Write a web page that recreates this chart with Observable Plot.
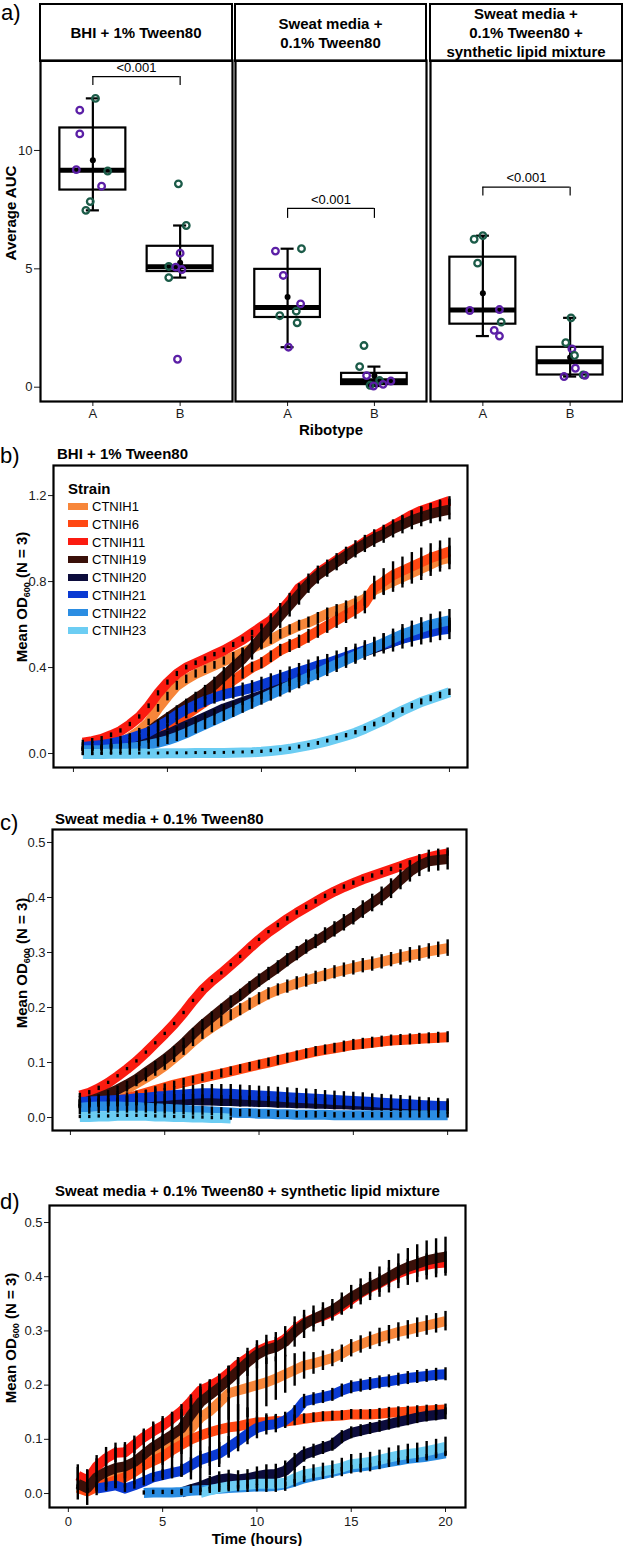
<!DOCTYPE html>
<html>
<head>
<meta charset="utf-8">
<script src="https://cdn.jsdelivr.net/npm/d3@7"></script>
<script src="https://cdn.jsdelivr.net/npm/@observablehq/plot@0.6"></script>
<style>
  html, body { margin: 0; padding: 0; background: #fff; }
  body { font-family: "Liberation Sans", Arial, Helvetica, sans-serif; color: #000; }
  #root { position: relative; width: 623px; height: 1546px; overflow: hidden; background: #fff; }
  .lbl { position: absolute; white-space: nowrap; line-height: 1; color: #000; }
  .hdr { position: absolute; box-sizing: border-box; border: 2px solid #000; display: flex; align-items: center; justify-content: center; text-align: center; font-weight: bold; font-size: 15px; line-height: 19px; }
  .sw { position: absolute; width: 20px; height: 7px; }
  sub { font-size: 9px; vertical-align: -3px; line-height: 0; }
</style>
</head>
<body>
<div id="root"></div>
<script>
// ================= DATA : panel a (Average AUC by ribotype) =================
const media = ["BHI + 1% Tween80", "Sweat media +<br>0.1% Tween80", "Sweat media +<br>0.1% Tween80 +<br>synthetic lipid mixture"];
const ribotypes = ["A", "B"];
const pLabels = ["<0.001", "<0.001", "<0.001"];
const bracketY = [13.12, 7.55, 8.45];
const bracketLegY = [12.74, 7.13, 8.08];
const repNames = ["p", "g"];
const repColors = ["#5b1fa6", "#1b5b48"];

const bhiA_auc = [12.2, 11.7, 10.7, 9.19, 9.13, 8.49, 7.84, 7.47];
const bhiA_rep = ["g","p","p","p","g","p","g","g"];
const bhiA_jit = [0.03,-0.15,-0.15,-0.19,0.17,0.10,-0.03,-0.08];
const bhiB_auc = [8.59, 6.83, 5.66, 5.10, 5.07, 4.97, 4.63, 1.18];
const bhiB_rep = ["g","g","p","g","p","p","g","p"];
const bhiB_jit = [-0.02,0.07,0.0,-0.13,-0.05,0.02,-0.13,-0.03];

const swA_auc = [5.85, 5.75, 4.72, 3.52, 3.21, 3.02, 2.72, 1.69];
const swA_rep = ["g","p","p","p","g","g","g","p"];
const swA_jit = [0.16,-0.14,-0.05,0.15,0.10,-0.09,0.11,0.01];
const swB_auc = [1.76, 0.87, 0.49, 0.28, 0.26, 0.12, 0.08, 0.05];
const swB_rep = ["g","g","p","g","p","p","g","p"];
const swB_jit = [-0.12,-0.17,-0.09,0.06,0.19,0.10,-0.05,-0.01];

const lipA_auc = [6.40, 6.25, 5.24, 3.28, 3.24, 2.75, 2.40, 2.16];
const lipA_rep = ["g","g","g","p","p","g","p","p"];
const lipA_jit = [0.0,-0.10,-0.06,0.19,-0.15,0.21,0.13,0.19];
const lipB_auc = [2.93, 1.88, 1.62, 1.34, 0.80, 0.52, 0.50, 0.45];
const lipB_rep = ["g","g","p","g","p","g","p","p"];
const lipB_jit = [0.01,-0.05,0.02,0.05,0.06,0.15,0.17,-0.07];

// ================= DATA : growth curves (mean OD600, SD) =================
const T = [0.5,1,1.5,2,2.5,3,3.5,4,4.5,5,5.5,6,6.5,7,7.5,8,8.5,9,9.5,10,10.5,11,11.5,12,12.5,13,13.5,14,14.5,15,15.5,16,16.5,17,17.5,18,18.5,19,19.5,20];
const strains = ["CTNIH1","CTNIH6","CTNIH11","CTNIH19","CTNIH20","CTNIH21","CTNIH22","CTNIH23"];
const strainColors = ["#f7863a","#ff4712","#fb1b10","#3a1009","#0c0c3c","#0a3ad2","#2b8de2","#6ccdf3"];

// b) BHI + 1% Tween80
const b_CTNIH1 = [0.02,0.022,0.028,0.038,0.052,0.075,0.105,0.145,0.21,0.265,0.315,0.345,0.37,0.39,0.41,0.43,0.45,0.47,0.49,0.51,0.53,0.555,0.575,0.595,0.61,0.63,0.65,0.665,0.68,0.70,0.72,0.76,0.78,0.80,0.82,0.84,0.86,0.88,0.90,0.91];
const b_CTNIH6 = [0.02,0.02,0.025,0.03,0.04,0.05,0.065,0.08,0.10,0.12,0.15,0.18,0.21,0.24,0.27,0.31,0.34,0.37,0.40,0.42,0.45,0.48,0.50,0.52,0.545,0.57,0.595,0.62,0.645,0.67,0.70,0.77,0.80,0.83,0.85,0.87,0.89,0.91,0.925,0.94];
const b_CTNIH11 = [0.05,0.058,0.068,0.085,0.105,0.135,0.17,0.22,0.28,0.33,0.37,0.40,0.42,0.44,0.46,0.48,0.505,0.53,0.56,0.59,0.62,0.66,0.71,0.77,0.80,0.84,0.87,0.90,0.93,0.955,0.985,1.01,1.035,1.06,1.085,1.11,1.13,1.145,1.16,1.175];
const b_CTNIH19 = [0.02,0.02,0.025,0.03,0.04,0.055,0.07,0.10,0.135,0.165,0.195,0.225,0.255,0.285,0.32,0.36,0.40,0.44,0.49,0.54,0.59,0.64,0.69,0.74,0.79,0.83,0.86,0.89,0.92,0.95,0.975,1.0,1.02,1.045,1.065,1.085,1.10,1.115,1.125,1.135];
const b_CTNIH20 = [0.02,0.02,0.022,0.025,0.03,0.035,0.045,0.06,0.075,0.09,0.11,0.13,0.15,0.17,0.19,0.21,0.225,0.24,0.255,0.27,0.29,0.31,0.33,0.35,0.37,0.39,0.41,0.425,0.44,0.46,0.475,0.49,0.505,0.52,0.535,0.55,0.56,0.57,0.58,0.59];
const b_CTNIH21 = [0.03,0.035,0.04,0.047,0.057,0.07,0.085,0.10,0.125,0.15,0.18,0.205,0.225,0.245,0.26,0.275,0.285,0.295,0.305,0.32,0.335,0.35,0.365,0.38,0.395,0.41,0.42,0.435,0.45,0.465,0.48,0.495,0.51,0.52,0.535,0.545,0.555,0.565,0.575,0.58];
const b_CTNIH22 = [0.015,0.015,0.017,0.02,0.023,0.027,0.032,0.04,0.05,0.062,0.077,0.095,0.115,0.135,0.155,0.175,0.195,0.215,0.235,0.255,0.275,0.295,0.315,0.335,0.355,0.375,0.395,0.415,0.435,0.455,0.475,0.495,0.515,0.535,0.555,0.57,0.585,0.60,0.61,0.62];
const b_CTNIH23 = [-0.002,-0.002,-0.002,-0.001,-0.001,-0.001,0.0,0.0,0.0,0.001,0.001,0.001,0.002,0.002,0.002,0.003,0.004,0.005,0.006,0.008,0.012,0.016,0.022,0.03,0.038,0.047,0.058,0.07,0.083,0.097,0.115,0.135,0.155,0.178,0.20,0.22,0.24,0.255,0.27,0.285];
const b_sd_CTNIH1 = [0.004,0.004,0.005,0.006,0.008,0.01,0.012,0.015,0.018,0.02,0.021,0.02,0.019,0.018,0.018,0.019,0.02,0.02,0.021,0.022,0.022,0.023,0.024,0.025,0.025,0.026,0.027,0.028,0.03,0.032,0.035,0.04,0.045,0.05,0.05,0.052,0.055,0.056,0.056,0.055];
const b_sd_CTNIH6 = [0.004,0.004,0.005,0.005,0.006,0.007,0.008,0.01,0.012,0.014,0.016,0.018,0.02,0.021,0.022,0.022,0.023,0.024,0.025,0.026,0.027,0.028,0.03,0.031,0.032,0.034,0.036,0.038,0.04,0.045,0.05,0.055,0.06,0.062,0.064,0.065,0.066,0.066,0.064,0.062];
const b_sd_CTNIH11 = [0.012,0.012,0.011,0.011,0.01,0.01,0.01,0.011,0.012,0.012,0.012,0.011,0.011,0.01,0.01,0.011,0.012,0.012,0.013,0.013,0.013,0.014,0.014,0.014,0.015,0.015,0.015,0.015,0.016,0.016,0.016,0.017,0.017,0.017,0.018,0.018,0.018,0.018,0.019,0.02];
const b_sd_CTNIH19 = [0.012,0.012,0.012,0.013,0.014,0.015,0.017,0.02,0.022,0.025,0.027,0.028,0.03,0.032,0.035,0.04,0.045,0.05,0.055,0.058,0.06,0.058,0.055,0.05,0.045,0.042,0.04,0.04,0.04,0.04,0.04,0.041,0.042,0.042,0.043,0.044,0.045,0.046,0.047,0.048];
const b_sd_CTNIH20 = [0.01,0.01,0.01,0.01,0.011,0.011,0.012,0.012,0.013,0.013,0.014,0.014,0.015,0.015,0.015,0.016,0.016,0.017,0.017,0.018,0.018,0.019,0.019,0.02,0.02,0.021,0.021,0.022,0.022,0.023,0.023,0.024,0.024,0.025,0.025,0.026,0.026,0.027,0.027,0.028];
const b_sd_CTNIH21 = [0.02,0.02,0.021,0.021,0.022,0.022,0.023,0.024,0.025,0.026,0.027,0.028,0.029,0.03,0.03,0.031,0.032,0.033,0.034,0.035,0.036,0.037,0.038,0.039,0.04,0.04,0.041,0.042,0.043,0.044,0.045,0.046,0.047,0.048,0.049,0.05,0.05,0.05,0.05,0.05];
const b_sd_CTNIH22 = [0.025,0.025,0.024,0.024,0.023,0.022,0.022,0.021,0.02,0.02,0.021,0.022,0.023,0.024,0.025,0.026,0.027,0.028,0.029,0.03,0.031,0.032,0.033,0.034,0.035,0.036,0.037,0.038,0.039,0.04,0.041,0.042,0.043,0.044,0.045,0.046,0.047,0.048,0.049,0.05];
const b_sd_CTNIH23 = [0.007,0.007,0.007,0.007,0.007,0.007,0.007,0.007,0.007,0.007,0.007,0.007,0.007,0.007,0.007,0.007,0.007,0.007,0.008,0.008,0.008,0.008,0.008,0.009,0.009,0.009,0.009,0.01,0.01,0.01,0.011,0.011,0.012,0.012,0.013,0.013,0.014,0.014,0.015,0.015];

// c) Sweat media + 0.1% Tween80
const c_CTNIH1 = [0.02,0.023,0.028,0.034,0.042,0.052,0.062,0.072,0.082,0.094,0.108,0.122,0.138,0.152,0.164,0.175,0.186,0.196,0.206,0.216,0.225,0.232,0.238,0.244,0.249,0.254,0.259,0.264,0.268,0.272,0.276,0.279,0.283,0.287,0.291,0.295,0.298,0.302,0.305,0.308];
const c_CTNIH6 = [0.02,0.022,0.024,0.027,0.031,0.035,0.04,0.045,0.05,0.055,0.06,0.064,0.068,0.072,0.076,0.08,0.084,0.088,0.092,0.096,0.1,0.104,0.108,0.112,0.116,0.12,0.123,0.126,0.129,0.132,0.134,0.136,0.138,0.14,0.141,0.142,0.143,0.144,0.145,0.146];
const c_CTNIH11 = [0.04,0.045,0.053,0.063,0.075,0.088,0.102,0.118,0.135,0.152,0.17,0.19,0.212,0.232,0.248,0.262,0.277,0.292,0.308,0.323,0.337,0.349,0.361,0.372,0.382,0.392,0.402,0.411,0.419,0.426,0.433,0.439,0.445,0.451,0.457,0.463,0.468,0.473,0.477,0.48];
const c_CTNIH19 = [0.025,0.03,0.036,0.043,0.051,0.06,0.07,0.082,0.094,0.106,0.12,0.135,0.152,0.168,0.182,0.196,0.21,0.222,0.236,0.249,0.261,0.273,0.286,0.298,0.31,0.32,0.331,0.342,0.354,0.365,0.378,0.39,0.402,0.416,0.432,0.447,0.458,0.466,0.468,0.47];
const c_CTNIH20 = [0.024,0.025,0.026,0.027,0.028,0.029,0.03,0.031,0.031,0.032,0.032,0.032,0.032,0.031,0.031,0.03,0.03,0.029,0.029,0.028,0.028,0.027,0.027,0.026,0.026,0.025,0.025,0.024,0.024,0.023,0.023,0.022,0.022,0.022,0.021,0.021,0.021,0.02,0.02,0.02];
const c_CTNIH21 = [0.028,0.029,0.03,0.031,0.032,0.033,0.035,0.036,0.038,0.039,0.041,0.042,0.043,0.044,0.044,0.043,0.043,0.042,0.041,0.04,0.039,0.038,0.037,0.036,0.035,0.034,0.033,0.032,0.031,0.03,0.029,0.028,0.027,0.026,0.025,0.024,0.023,0.022,0.021,0.02];
const c_CTNIH22 = [0.018,0.019,0.02,0.02,0.02,0.019,0.019,0.018,0.017,0.016,0.015,0.014,0.013,0.012,0.011,0.01,0.009,0.008,0.008,0.007,0.007,0.006,0.006,0.005,0.005,0.005,0.005,0.004,0.004,0.004,0.004,0.004,0.004,0.004,0.004,0.004,0.004,0.004,0.004,0.004];
const c_CTNIH23 = [0.001,0.001,0.002,0.002,0.003,0.003,0.003,0.003,0.002,0.002,0.001,0.001,0.0,0.0,-0.001,-0.001,-0.002,null,null,null,null,null,null,null,null,null,null,null,null,null,null,null,null,null,null,null,null,null,null,null];
const c_sd_CTNIH1 = [0.004,0.004,0.004,0.005,0.005,0.006,0.006,0.007,0.007,0.008,0.008,0.009,0.009,0.01,0.01,0.01,0.01,0.011,0.011,0.011,0.011,0.011,0.012,0.012,0.012,0.012,0.012,0.012,0.013,0.013,0.013,0.013,0.013,0.013,0.014,0.014,0.014,0.014,0.014,0.015];
const c_sd_CTNIH6 = [0.003,0.003,0.004,0.004,0.004,0.005,0.005,0.005,0.006,0.006,0.006,0.007,0.007,0.007,0.007,0.008,0.008,0.008,0.008,0.008,0.008,0.009,0.009,0.009,0.009,0.009,0.009,0.009,0.01,0.01,0.01,0.01,0.01,0.01,0.01,0.01,0.01,0.01,0.01,0.01];
const c_sd_CTNIH11 = [0.004,0.004,0.004,0.003,0.003,0.003,0.003,0.003,0.003,0.003,0.003,0.003,0.003,0.003,0.003,0.003,0.003,0.003,0.003,0.003,0.003,0.004,0.004,0.004,0.004,0.004,0.004,0.004,0.004,0.004,0.004,0.004,0.004,0.004,0.004,0.004,0.005,0.005,0.005,0.005];
const c_sd_CTNIH19 = [0.005,0.005,0.005,0.006,0.006,0.006,0.007,0.007,0.008,0.008,0.009,0.009,0.01,0.01,0.01,0.01,0.011,0.011,0.011,0.012,0.012,0.012,0.012,0.013,0.013,0.013,0.014,0.014,0.015,0.015,0.016,0.016,0.017,0.018,0.018,0.019,0.02,0.02,0.02,0.02];
const c_sd_CTNIH20 = [0.008,0.008,0.008,0.008,0.009,0.009,0.009,0.01,0.01,0.01,0.01,0.01,0.01,0.01,0.01,0.01,0.01,0.01,0.01,0.01,0.01,0.01,0.01,0.01,0.01,0.01,0.01,0.01,0.01,0.01,0.01,0.01,0.01,0.01,0.01,0.01,0.01,0.01,0.01,0.01];
const c_sd_CTNIH21 = [0.01,0.01,0.011,0.011,0.012,0.012,0.013,0.013,0.014,0.014,0.015,0.015,0.016,0.016,0.016,0.017,0.017,0.017,0.017,0.017,0.017,0.017,0.017,0.017,0.017,0.017,0.016,0.016,0.016,0.016,0.016,0.015,0.015,0.015,0.015,0.015,0.014,0.014,0.014,0.014];
const c_sd_CTNIH22 = [0.013,0.013,0.013,0.012,0.012,0.011,0.011,0.01,0.01,0.01,0.009,0.009,0.009,0.008,0.008,0.008,0.007,0.007,0.007,0.007,0.006,0.006,0.006,0.006,0.006,0.006,0.005,0.005,0.005,0.005,0.005,0.005,0.005,0.005,0.005,0.005,0.005,0.005,0.005,0.005];
const c_sd_CTNIH23 = [0.003,0.003,0.003,0.003,0.003,0.003,0.003,0.003,0.003,0.003,0.003,0.003,0.003,0.003,0.003,0.003,0.003,null,null,null,null,null,null,null,null,null,null,null,null,null,null,null,null,null,null,null,null,null,null,null];

// d) Sweat media + 0.1% Tween80 + synthetic lipid mixture
const d_CTNIH1 = [0.012,0.005,0.015,0.022,0.03,0.035,0.05,0.062,0.072,0.08,0.09,0.102,0.12,0.14,0.152,0.168,0.185,0.19,0.195,0.2,0.205,0.212,0.22,0.228,0.236,0.24,0.245,0.25,0.258,0.268,0.275,0.282,0.288,0.293,0.298,0.302,0.306,0.31,0.314,0.318];
const d_CTNIH6 = [0.01,0.004,0.012,0.018,0.024,0.03,0.04,0.052,0.06,0.068,0.08,0.09,0.1,0.107,0.113,0.118,0.122,0.124,0.128,0.131,0.132,0.134,0.133,0.135,0.138,0.14,0.142,0.143,0.144,0.146,0.146,0.146,0.147,0.149,0.15,0.151,0.152,0.153,0.154,0.155];
const d_CTNIH11 = [0.033,0.024,0.05,0.065,0.075,0.076,0.09,0.104,0.115,0.125,0.138,0.152,0.17,0.19,0.198,0.208,0.222,0.238,0.25,0.262,0.27,0.275,0.285,0.302,0.315,0.322,0.328,0.335,0.345,0.358,0.37,0.38,0.388,0.398,0.406,0.413,0.418,0.422,0.425,0.426];
const d_CTNIH19 = [0.018,0.01,0.03,0.04,0.047,0.05,0.058,0.072,0.086,0.097,0.108,0.12,0.145,0.168,0.182,0.195,0.21,0.226,0.242,0.256,0.265,0.27,0.28,0.298,0.312,0.322,0.33,0.338,0.35,0.362,0.372,0.382,0.39,0.4,0.41,0.418,0.424,0.43,0.434,0.437];
const d_CTNIH20 = [null,null,null,null,null,null,null,null,null,null,null,0.002,0.008,0.013,0.02,0.026,0.028,0.026,0.028,0.032,0.035,0.036,0.042,0.058,0.072,0.078,0.084,0.09,0.104,0.112,0.116,0.12,0.124,0.128,0.132,0.136,0.14,0.143,0.145,0.147];
const d_CTNIH21 = [null,null,0.009,0.012,0.015,0.009,0.015,0.022,0.03,0.034,0.038,0.042,0.052,0.062,0.068,0.074,0.085,0.097,0.11,0.121,0.126,0.128,0.135,0.148,0.17,0.174,0.178,0.182,0.19,0.196,0.199,0.202,0.205,0.207,0.21,0.213,0.215,0.217,0.219,0.22];
const d_CTNIH22 = [null,null,null,null,null,null,null,0.001,0.002,0.002,0.002,0.003,0.005,0.006,0.007,0.009,0.01,0.011,0.012,0.013,0.013,0.014,0.017,0.022,0.028,0.032,0.036,0.04,0.044,0.048,0.05,0.052,0.055,0.058,0.061,0.064,0.066,0.068,0.071,0.074];
const d_CTNIH23 = [null,null,null,null,null,null,null,null,null,null,null,null,null,0.001,0.006,0.01,0.013,0.015,0.016,0.018,0.018,0.018,0.02,0.028,0.035,0.038,0.041,0.044,0.048,0.054,0.056,0.058,0.062,0.066,0.07,0.073,0.075,0.078,0.082,0.086];
const d_sd_CTNIH1 = [0.005,0.005,0.006,0.006,0.007,0.008,0.01,0.012,0.015,0.02,0.025,0.03,0.035,0.04,0.045,0.05,0.05,0.055,0.055,0.05,0.045,0.04,0.035,0.03,0.025,0.02,0.018,0.016,0.016,0.016,0.016,0.016,0.017,0.017,0.017,0.017,0.018,0.018,0.018,0.018];
const d_sd_CTNIH6 = [0.005,0.005,0.006,0.007,0.008,0.01,0.015,0.02,0.03,0.04,0.05,0.06,0.075,0.085,0.08,0.07,0.055,0.04,0.03,0.02,0.015,0.012,0.01,0.01,0.009,0.009,0.009,0.009,0.009,0.009,0.009,0.009,0.01,0.01,0.01,0.01,0.01,0.01,0.01,0.01];
const d_sd_CTNIH11 = [0.02,0.02,0.02,0.02,0.018,0.018,0.016,0.015,0.014,0.013,0.012,0.012,0.012,0.012,0.012,0.012,0.012,0.012,0.012,0.013,0.013,0.013,0.014,0.014,0.014,0.015,0.015,0.015,0.016,0.016,0.016,0.017,0.017,0.018,0.018,0.019,0.019,0.02,0.02,0.02];
const d_sd_CTNIH19 = [0.03,0.032,0.034,0.036,0.038,0.04,0.042,0.044,0.046,0.045,0.04,0.035,0.03,0.028,0.026,0.025,0.025,0.025,0.026,0.026,0.027,0.027,0.028,0.028,0.026,0.024,0.022,0.02,0.02,0.022,0.024,0.026,0.028,0.03,0.032,0.034,0.035,0.036,0.036,0.036];
const d_sd_CTNIH20 = [null,null,null,null,null,null,null,null,null,null,null,0.006,0.008,0.01,0.012,0.014,0.015,0.016,0.016,0.017,0.018,0.018,0.018,0.016,0.014,0.013,0.012,0.012,0.012,0.011,0.011,0.011,0.011,0.011,0.011,0.011,0.011,0.011,0.011,0.011];
const d_sd_CTNIH21 = [null,null,0.006,0.006,0.006,0.007,0.007,0.008,0.009,0.01,0.011,0.012,0.014,0.016,0.018,0.02,0.02,0.02,0.02,0.02,0.018,0.016,0.015,0.014,0.013,0.012,0.012,0.012,0.012,0.012,0.012,0.012,0.012,0.012,0.012,0.012,0.012,0.012,0.012,0.012];
const d_sd_CTNIH22 = [null,null,null,null,null,null,null,0.004,0.004,0.004,0.004,0.004,0.004,0.004,0.004,0.004,0.004,0.004,0.004,0.004,0.004,0.004,0.004,0.004,0.004,0.004,0.004,0.004,0.004,0.004,0.004,0.004,0.004,0.004,0.004,0.004,0.004,0.004,0.004,0.004];
const d_sd_CTNIH23 = [null,null,null,null,null,null,null,null,null,null,null,null,null,0.005,0.006,0.008,0.01,0.012,0.014,0.015,0.016,0.016,0.016,0.016,0.015,0.015,0.015,0.016,0.017,0.018,0.018,0.018,0.018,0.018,0.018,0.018,0.018,0.018,0.018,0.018];

// ================= RENDERING =================
const root = document.getElementById("root");
const FONT = '"Liberation Sans", Arial, Helvetica, sans-serif';
const baseStyle = {fontFamily: FONT, fontSize: "13px", color: "#1a1a1a", background: "transparent", overflow: "visible"};

function place(node, left, top, width) {
  const w = document.createElement("div");
  w.style.position = "absolute"; w.style.left = left + "px"; w.style.top = top + "px";
  if (width) w.style.width = width + "px";
  w.appendChild(node); root.appendChild(w);
}
function label(html, x, y, opt = {}) {
  const {size = 15, weight = "bold", anchor = "middle", rotate = false} = opt;
  const el = document.createElement("div");
  el.className = "lbl";
  el.innerHTML = html;
  el.style.left = x + "px"; el.style.top = y + "px";
  el.style.fontSize = size + "px"; el.style.fontWeight = weight;
  const tx = anchor === "start" ? "0" : "-50%";
  el.style.transform = `translate(${tx}, -50%)` + (rotate ? " rotate(-90deg)" : "");
  root.appendChild(el);
}

// ---------- panel a ----------
const facetPts = [
  [[bhiA_auc, bhiA_rep, bhiA_jit], [bhiB_auc, bhiB_rep, bhiB_jit]],
  [[swA_auc, swA_rep, swA_jit], [swB_auc, swB_rep, swB_jit]],
  [[lipA_auc, lipA_rep, lipA_jit], [lipB_auc, lipB_rep, lipB_jit]]
];
const facetBoxes = [
  {svgLeft: 0, ml: 40, mr: 3, w: 192, yAxis: true},
  {svgLeft: 232, ml: 3, mr: 3, w: 191, yAxis: false},
  {svgLeft: 427, ml: 3, mr: 1, w: 192, yAxis: false}
];
const BOXW = 0.378, CAP = 0.075;

facetPts.forEach((groups, k) => {
  const pts = [], stats = [];
  groups.forEach(([auc, rep, jit], r) => {
    const pos = r + 1;
    auc.forEach((v, i) => pts.push({pos, auc: v, rep: rep[i], jit: jit[i]}));
    const s = auc.slice().sort(d3.ascending);
    const q1 = d3.quantile(s, 0.25), q3 = d3.quantile(s, 0.75), iqr = q3 - q1;
    const inside = s.filter(v => v >= q1 - 1.5 * iqr && v <= q3 + 1.5 * iqr);
    stats.push({pos, q1, q3, med: d3.median(s), lo: d3.min(inside), hi: d3.max(inside), mean: d3.mean(s)});
  });
  const br = [{x1: 1, x2: 2, y: bracketY[k], leg: bracketLegY[k], label: pLabels[k]}];
  const fb = facetBoxes[k];
  const chart = Plot.plot({
    width: fb.ml + fb.w + fb.mr, height: 60 + 341 + 28,
    marginLeft: fb.ml, marginRight: fb.mr, marginTop: 60, marginBottom: 28,
    style: baseStyle,
    x: {domain: [0.4, 2.6], ticks: [1, 2], tickFormat: d => ribotypes[d - 1], tickSize: 5, tickPadding: 2, label: null},
    y: fb.yAxis ? {domain: [-0.604, 13.8], ticks: [0, 5, 10], tickSize: 6, tickPadding: 2, label: null}
                : {domain: [-0.604, 13.8], axis: null},
    color: {domain: repNames, range: repColors},
    marks: [
      Plot.ruleX(stats, {x: "pos", y1: "lo", y2: "hi", stroke: "#000", strokeWidth: 2.2}),
      Plot.ruleY(stats, {y: "lo", x1: d => d.pos - CAP, x2: d => d.pos + CAP, stroke: "#000", strokeWidth: 2.2}),
      Plot.ruleY(stats, {y: "hi", x1: d => d.pos - CAP, x2: d => d.pos + CAP, stroke: "#000", strokeWidth: 2.2}),
      Plot.rect(stats, {x1: d => d.pos - BOXW, x2: d => d.pos + BOXW, y1: "q1", y2: "q3", fill: "none", stroke: "#000", strokeWidth: 2.2}),
      Plot.ruleY(stats, {y: "med", x1: d => d.pos - BOXW, x2: d => d.pos + BOXW, stroke: "#000", strokeWidth: 5}),
      Plot.dot(stats, {x: "pos", y: "mean", r: 3, fill: "#000"}),
      Plot.dot(pts, {x: d => d.pos + d.jit, y: "auc", stroke: "rep", r: 3.3, strokeWidth: 2.3, fill: "none"}),
      Plot.ruleY(br, {y: "y", x1: "x1", x2: "x2", stroke: "#000", strokeWidth: 1.2}),
      Plot.ruleX(br, {x: "x1", y1: "leg", y2: "y", stroke: "#000", strokeWidth: 1.2}),
      Plot.ruleX(br, {x: "x2", y1: "leg", y2: "y", stroke: "#000", strokeWidth: 1.2}),
      Plot.text(br, {x: d => (d.x1 + d.x2) / 2, y: "y", text: "label", dy: -9, fontSize: 13, fill: "#000"}),
      Plot.frame({stroke: "#000", strokeWidth: 2.2})
    ]
  });
  place(chart, fb.svgLeft, 0, fb.ml + fb.w + fb.mr);
});

// facet strips
[[39, 194], [234, 193], [429, 194]].forEach(([l, w], k) => {
  const h = document.createElement("div");
  h.className = "hdr";
  h.style.left = l + "px"; h.style.top = "3px"; h.style.width = w + "px"; h.style.height = "59px";
  h.innerHTML = media[k];
  root.appendChild(h);
});
label("a)", 1, 13, {size: 22, weight: "normal", anchor: "start"});
label("Average AUC", 10, 213, {rotate: true});
label("Ribotype", 331, 429);

// ---------- growth curve panels ----------
function linePanel(means, sds, cfg) {
  const rows = [], bars = [];
  strains.forEach((s, k) => {
    means[k].forEach((v, i) => {
      rows.push({strain: s, t: T[i], v: v == null ? NaN : v});
      const sd = sds[k][i];
      if (v != null && sd != null) bars.push({t: T[i], lo: v - sd, hi: v + sd});
    });
  });
  const mt = 4, mb = cfg.xLabels ? 26 : 12;
  const chart = Plot.plot({
    width: 623, height: (cfg.bottom - cfg.top) + mt + mb,
    marginLeft: cfg.left, marginRight: 623 - cfg.right, marginTop: mt, marginBottom: mb,
    style: baseStyle,
    x: {domain: cfg.xDomain, ticks: [0, 5, 10, 15, 20], tickSize: 5, tickPadding: 4,
        tickFormat: cfg.xLabels ? (d => String(d)) : (() => ""), label: null},
    y: {domain: cfg.yDomain, ticks: cfg.yTicks, tickSize: 5, tickPadding: 2, tickFormat: d3.format(".1f"), label: null},
    color: {domain: strains, range: strainColors},
    marks: [
      Plot.line(rows, {x: "t", y: "v", z: "strain", stroke: "strain", strokeWidth: 10, strokeLinejoin: "round", strokeLinecap: "butt"}),
      Plot.ruleX(bars, {x: "t", y1: "lo", y2: "hi", stroke: "#000", strokeWidth: 2.4}),
      Plot.frame({stroke: "#000", strokeWidth: 2.2})
    ]
  });
  place(chart, 0, cfg.top - mt, 623);
}

const bMeans = [b_CTNIH1, b_CTNIH6, b_CTNIH11, b_CTNIH19, b_CTNIH20, b_CTNIH21, b_CTNIH22, b_CTNIH23];
const bSds = [b_sd_CTNIH1, b_sd_CTNIH6, b_sd_CTNIH11, b_sd_CTNIH19, b_sd_CTNIH20, b_sd_CTNIH21, b_sd_CTNIH22, b_sd_CTNIH23];
const cMeans = [c_CTNIH1, c_CTNIH6, c_CTNIH11, c_CTNIH19, c_CTNIH20, c_CTNIH21, c_CTNIH22, c_CTNIH23];
const cSds = [c_sd_CTNIH1, c_sd_CTNIH6, c_sd_CTNIH11, c_sd_CTNIH19, c_sd_CTNIH20, c_sd_CTNIH21, c_sd_CTNIH22, c_sd_CTNIH23];
const dMeans = [d_CTNIH1, d_CTNIH6, d_CTNIH11, d_CTNIH19, d_CTNIH20, d_CTNIH21, d_CTNIH22, d_CTNIH23];
const dSds = [d_sd_CTNIH1, d_sd_CTNIH6, d_sd_CTNIH11, d_sd_CTNIH19, d_sd_CTNIH20, d_sd_CTNIH21, d_sd_CTNIH22, d_sd_CTNIH23];

linePanel(bMeans, bSds, {top: 465, bottom: 767, left: 53, right: 467, xDomain: [-1.06, 20.96], yDomain: [-0.065, 1.34], yTicks: [0, 0.4, 0.8, 1.2], xLabels: false});
linePanel(cMeans, cSds, {top: 829, bottom: 1130, left: 52, right: 466, xDomain: [-0.95, 21.0], yDomain: [-0.0236, 0.5236], yTicks: [0, 0.1, 0.2, 0.3, 0.4, 0.5], xLabels: false});
linePanel(dMeans, dSds, {top: 1205, bottom: 1507, left: 49, right: 465, xDomain: [-1.0, 21.06], yDomain: [-0.0258, 0.5314], yTicks: [0, 0.1, 0.2, 0.3, 0.4, 0.5], xLabels: true});

const yLab = "Mean OD<sub>600</sub> (N = 3)";
label("b)", 0, 456, {size: 22, weight: "normal", anchor: "start"});
label("BHI + 1% Tween80", 57, 453, {anchor: "start"});
label(yLab, 21, 597, {rotate: true});
label("c)", 0, 823, {size: 22, weight: "normal", anchor: "start"});
label("Sweat media + 0.1% Tween80", 55, 818, {anchor: "start"});
label(yLab, 21, 963, {rotate: true});
label("d)", 0, 1202, {size: 22, weight: "normal", anchor: "start"});
label("Sweat media + 0.1% Tween80 + synthetic lipid mixture", 55, 1190, {anchor: "start"});
label(yLab, 10, 1338, {rotate: true});
label("Time (hours)", 257, 1538);

// legend (inside panel b)
label("Strain", 68, 488, {anchor: "start"});
strains.forEach((s, i) => {
  const y = 506 + 17.75 * i;
  const sw = document.createElement("div");
  sw.className = "sw";
  sw.style.left = "68px"; sw.style.top = (y - 3.5) + "px"; sw.style.background = strainColors[i];
  root.appendChild(sw);
  label(s, 92, y, {size: 13, weight: "normal", anchor: "start"});
});
</script>
</body>
</html>
